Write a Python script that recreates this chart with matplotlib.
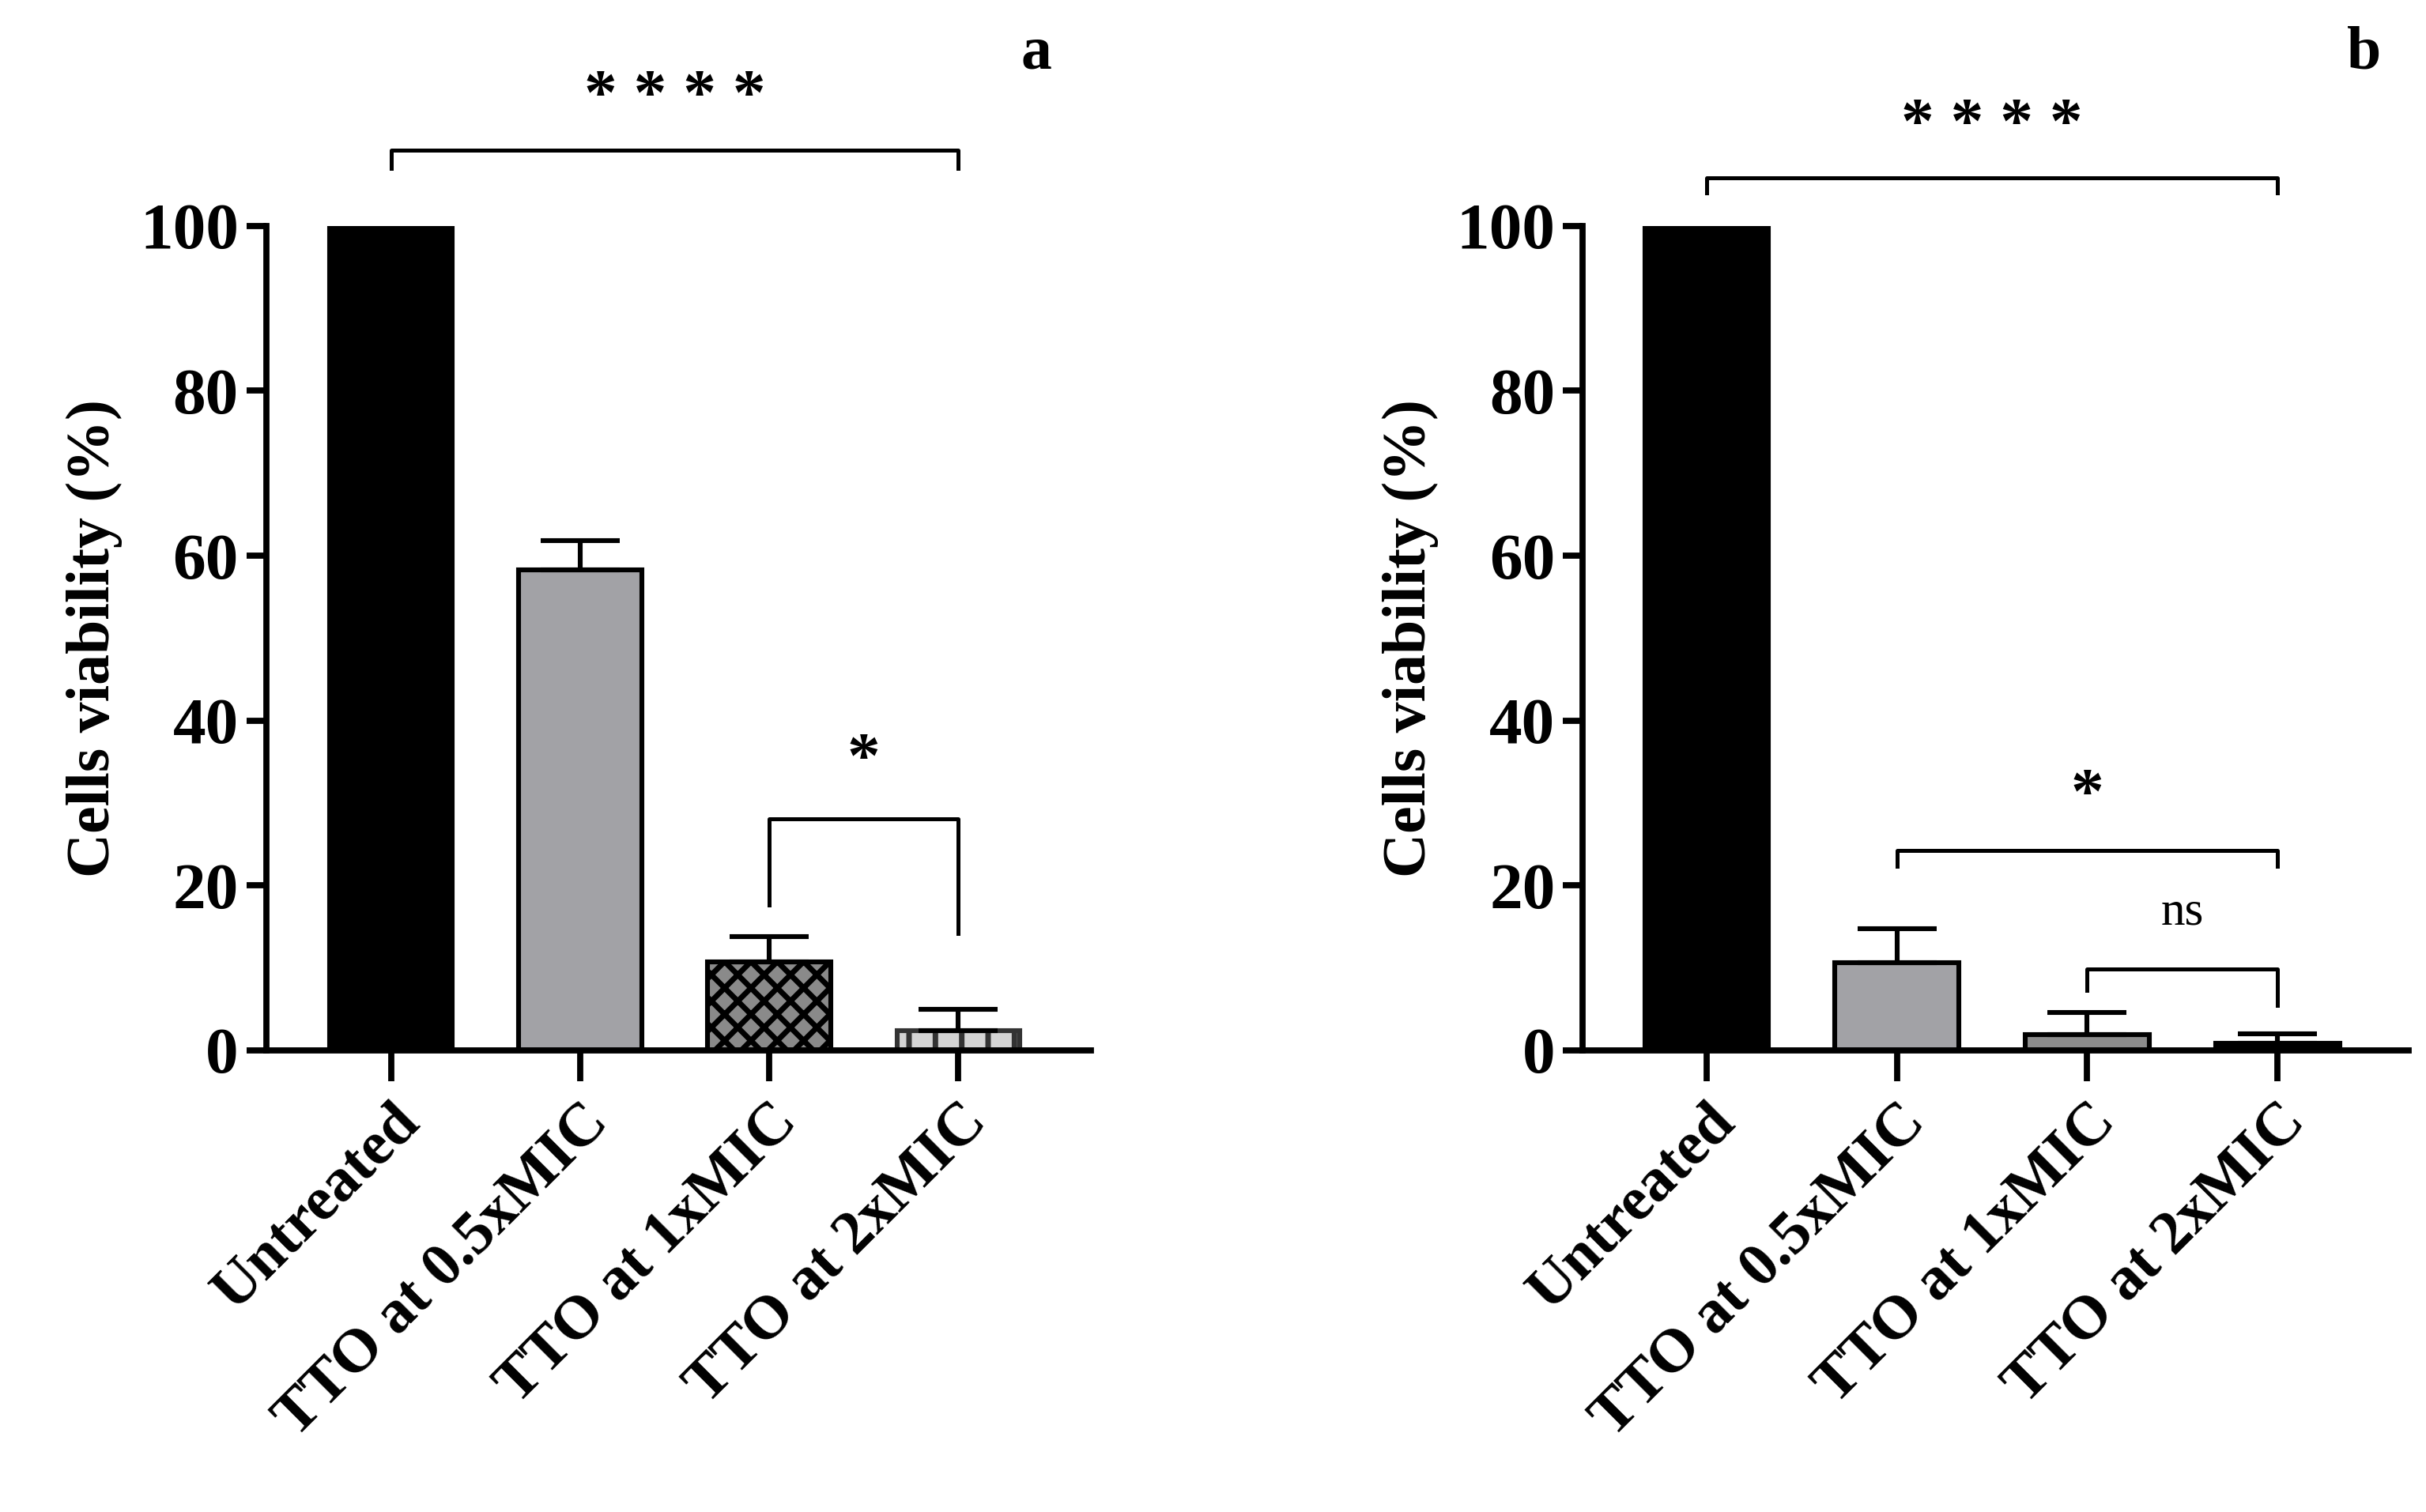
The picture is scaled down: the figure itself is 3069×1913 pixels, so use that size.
import numpy as np
import matplotlib.pyplot as plt

categories = ["Untreated", "TTO at 0.5xMIC", "TTO at 1xMIC", "TTO at 2xMIC"]
viability_a = [100, 58.3, 10.7, 2.4]
error_a = [0, 3.5, 3.1, 2.6]
viability_b = [100, 10.6, 1.9, 0.8]
error_b = [0, 4.1, 2.7, 1.2]
yticks = [0, 20, 40, 60, 80, 100]

plt.rcParams["font.family"] = "Liberation Serif"
plt.rcParams["font.weight"] = "bold"
plt.rcParams["hatch.linewidth"] = 2.5

fig = plt.figure(figsize=(15.345, 9.565), dpi=200)
W, H = 1568, 977.5
LW = 2.8


def make_axes(x0, x1, xlim):
    ax = fig.add_axes([x0 / W, 1 - 679 / H, (x1 - x0) / W, (679 - 146) / H])
    ax.set_xlim(*xlim)
    ax.set_ylim(0, 100)
    for s in ["top", "right"]:
        ax.spines[s].set_visible(False)
    for s in ["left", "bottom"]:
        ax.spines[s].set_linewidth(LW)
    ax.set_yticks(yticks)
    ax.set_xticks(range(len(categories)))
    ax.set_xticklabels(categories, rotation=45, ha="right", rotation_mode="anchor",
                       fontsize=28, fontweight="bold")
    ax.tick_params(axis="x", length=14, width=LW, pad=6)
    ax.tick_params(axis="y", length=9, width=LW, labelsize=30)
    ax.set_ylabel("Cells viability (%)", fontsize=28, fontweight="bold", labelpad=8)
    return ax


def bracket(ax, x0, x1, y, yl, yr, text, ty, size=30, weight="bold"):
    ax.plot([x0, x0, x1, x1], [yl, y, y, yr], color="black", lw=1.8, clip_on=False)
    ax.text((x0 + x1) / 2, ty, text, ha="center", va="center", fontsize=size,
            fontweight=weight, clip_on=False)


def draw_bars(ax, vals, errs, styles):
    x = np.arange(len(vals))
    for i, (v, e, st) in enumerate(zip(vals, errs, styles)):
        ax.bar(x[i], v, width=0.65, linewidth=2.2, zorder=2, **st)
        if e > 0:
            ax.errorbar(x[i], v, yerr=[[0], [e]], color="black", capsize=18,
                        capthick=2.2, elinewidth=2.2, zorder=3)


# panel a
ax1 = make_axes(172, 705, (-0.66, 3.7))
draw_bars(ax1, viability_a, error_a, [
    dict(facecolor="black", edgecolor="black"),
    dict(facecolor="#a2a2a6", edgecolor="black"),
    dict(facecolor="#8a8a8a", edgecolor="black", hatch="xx"),
    dict(facecolor="#d4d4d4", edgecolor="#333333", hatch="|"),
])
bracket(ax1, 0, 3, 109.2, 107, 107, "* * * *", 115.5)
bracket(ax1, 2, 3, 28.1, 17.6, 14.2, "*", 35)
fig.text(670 / W, 1 - 35 / H, "a", fontsize=28, fontweight="bold", ha="center", va="center")

# panel b
ax2 = make_axes(1023, 1557, (-0.65, 3.69))
draw_bars(ax2, viability_b, error_b, [
    dict(facecolor="black", edgecolor="black"),
    dict(facecolor="#a2a2a6", edgecolor="black"),
    dict(facecolor="#8c8c8c", edgecolor="black"),
    dict(facecolor="black", edgecolor="black"),
])
bracket(ax2, 0, 3, 105.8, 104, 104, "* * * *", 112)
bracket(ax2, 1, 3, 24.2, 22.3, 22.3, "*", 30.7)
bracket(ax2, 2, 3, 9.9, 7.3, 5.4, "ns", 16.7, size=22, weight="normal")
fig.text(1528 / W, 1 - 35 / H, "b", fontsize=28, fontweight="bold", ha="center", va="center")

fig.savefig("out.png", dpi=200)
